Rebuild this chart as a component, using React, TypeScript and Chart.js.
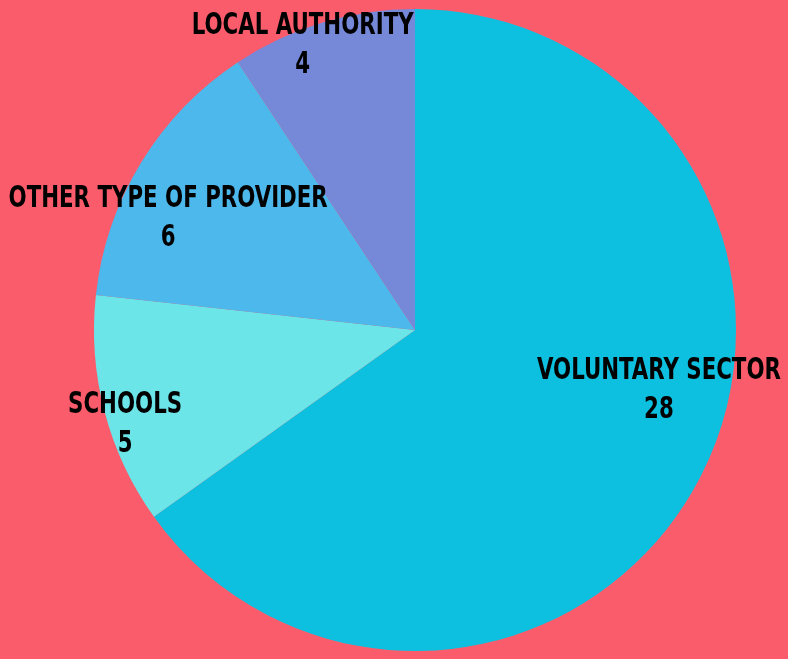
import React, { useEffect, useRef } from "react";
import { Chart, registerables } from "chart.js";

Chart.register(...registerables);

const categories = ["VOLUNTARY SECTOR", "SCHOOLS", "OTHER TYPE OF PROVIDER", "LOCAL AUTHORITY"];
const values = [28, 5, 6, 4];
const sliceColors = ["#0EC0E0", "#6BE5E8", "#4DB8EC", "#7688D8"];
// label placement relative to pie centre, in units of the radius
const labelOffsets = [
  [0.76, 0.127],
  [-0.903, 0.233],
  [-0.769, -0.408],
  [-0.35, -0.947],
];

const BG = "#FA5C6B";
const TEXT_SCALE_X = 0.79;

const labelPlugin = {
  id: "sliceLabels",
  afterDatasetsDraw(chart: any) {
    const ctx = chart.ctx;
    const meta = chart.getDatasetMeta(0);
    meta.data.forEach((arc: any, i: number) => {
      const r = arc.outerRadius;
      const x = arc.x + labelOffsets[i][0] * r;
      const y = arc.y + labelOffsets[i][1] * r;
      ctx.save();
      ctx.fillStyle = "#000";
      ctx.textAlign = "center";
      ctx.textBaseline = "middle";
      ctx.font = "bold 30px 'DejaVu Sans Condensed', 'DejaVu Sans', sans-serif";
      ctx.translate(x, y);
      ctx.scale(TEXT_SCALE_X, 1);
      ctx.fillText(categories[i], 0, 0);
      ctx.fillText(String(values[i]), 0, 39);
      ctx.restore();
    });
  },
};

export default function App() {
  const ref = useRef<HTMLCanvasElement>(null);
  useEffect(() => {
    document.body.style.margin = "0";
    document.body.style.background = BG;
    const chart = new Chart(ref.current!, {
      type: "pie",
      data: {
        labels: categories,
        datasets: [
          {
            data: values,
            backgroundColor: sliceColors,
            borderWidth: 0,
          },
        ],
      },
      options: {
        animation: false,
        responsive: false,
        layout: { padding: { left: 94, right: 52, top: 9, bottom: 8 } },
        plugins: {
          legend: { display: false },
          tooltip: { enabled: false },
        },
      },
      plugins: [labelPlugin],
    });
    return () => chart.destroy();
  }, []);
  return (
    <div style={{ width: 788, height: 659, background: BG }}>
      <canvas ref={ref} width={788} height={659} style={{ display: "block" }} />
    </div>
  );
}
